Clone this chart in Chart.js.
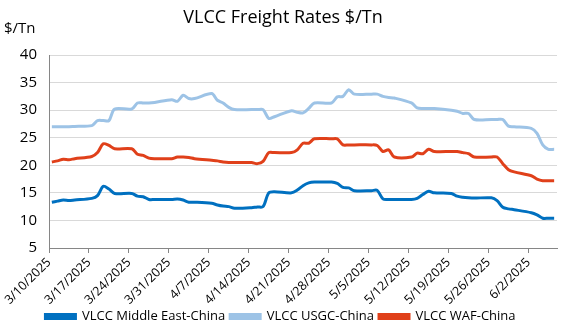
<!DOCTYPE html>
<html>
<head>
<meta charset="utf-8">
<script src="https://cdn.jsdelivr.net/npm/chart.js@4.4.1/dist/chart.umd.min.js"></script>
<style>
  html, body { margin: 0; padding: 0; background: #fff; }
  #wrap { width: 565px; height: 333px; position: relative; }
</style>
</head>
<body>
<div id="wrap"><canvas id="grafico" width="565" height="333"></canvas></div>
<script>
// fechas (dias habiles)
const fechas = [
  "2025-03-10", "2025-03-11", "2025-03-12", "2025-03-13", "2025-03-14",
  "2025-03-17", "2025-03-18", "2025-03-19", "2025-03-20", "2025-03-21",
  "2025-03-24", "2025-03-25", "2025-03-26", "2025-03-27", "2025-03-28",
  "2025-03-31", "2025-04-01", "2025-04-02", "2025-04-03", "2025-04-04",
  "2025-04-07", "2025-04-08", "2025-04-09", "2025-04-10", "2025-04-11",
  "2025-04-14", "2025-04-15", "2025-04-16", "2025-04-17", "2025-04-18",
  "2025-04-21", "2025-04-22", "2025-04-23", "2025-04-24", "2025-04-25",
  "2025-04-28", "2025-04-29", "2025-04-30", "2025-05-01", "2025-05-02",
  "2025-05-05", "2025-05-06", "2025-05-07", "2025-05-08", "2025-05-09",
  "2025-05-12", "2025-05-13", "2025-05-14", "2025-05-15", "2025-05-16",
  "2025-05-19", "2025-05-20", "2025-05-21", "2025-05-22", "2025-05-23",
  "2025-05-26", "2025-05-27", "2025-05-28", "2025-05-29", "2025-05-30",
  "2025-06-02", "2025-06-03", "2025-06-04", "2025-06-05", "2025-06-06"
];

const middleEast = [
  13.3, 13.5, 13.7, 13.6, 13.7,
  14.0, 14.5, 16.2, 15.7, 14.9,
  14.9, 14.4, 14.3, 13.8, 13.8,
  13.8, 13.9, 13.7, 13.3, 13.3,
  13.1, 12.8, 12.6, 12.5, 12.2,
  12.3, 12.45, 12.5, 15.0, 15.2,
  15.0, 15.5, 16.3, 16.8, 16.95,
  16.95, 16.7, 16.0, 15.9, 15.4,
  15.4, 15.45, 13.9, 13.8, 13.8,
  13.8, 14.0, 14.7, 15.3, 15.0,
  14.9, 14.4, 14.2, 14.1, 14.05,
  14.1, 13.6, 12.4, 12.1, 11.95,
  11.4, 11.0, 10.4, 10.4, 10.4
];

const usgc = [
  27.0, 27.0, 27.0, 27.0, 27.05,
  27.2, 28.1, 28.1, 28.1, 30.2,
  30.2, 31.3, 31.3, 31.3, 31.4,
  31.9, 31.6, 32.7, 32.1, 32.1,
  33.0, 31.8, 31.3, 30.5, 30.1,
  30.1, 30.1, 30.1, 28.5, 28.8,
  29.9, 29.6, 29.5, 30.3, 31.3,
  31.3, 32.4, 32.5, 33.7, 32.9,
  32.9, 32.9, 32.5, 32.3, 32.2,
  31.3, 30.4, 30.3, 30.3, 30.3,
  30.0, 29.8, 29.4, 29.4, 28.3,
  28.3, 28.3, 28.3, 27.1, 27.0,
  26.7, 25.8, 23.7, 22.9, 22.9
];

const waf = [
  20.6, 20.8, 21.1, 21.0, 21.2,
  21.6, 22.3, 23.9, 23.6, 23.0,
  23.0, 22.0, 21.8, 21.3, 21.2,
  21.2, 21.5, 21.5, 21.4, 21.2,
  20.9, 20.8, 20.6, 20.5, 20.5,
  20.5, 20.3, 20.7, 22.3, 22.3,
  22.3, 22.8, 24.0, 24.0, 24.8,
  24.8, 24.8, 23.7, 23.7, 23.7,
  23.7, 23.6, 22.5, 22.8, 21.5,
  21.5, 22.2, 22.1, 22.9, 22.5,
  22.5, 22.5, 22.3, 22.1, 21.5,
  21.5, 21.5, 20.3, 19.2, 18.8,
  18.1, 17.5, 17.2, 17.2, 17.2
];

const yTicks = [5, 10, 15, 20, 25, 30, 35, 40];
const fuente = "'Open Sans', 'Liberation Sans', sans-serif";

const inicio = new Date("2025-03-10T00:00:00Z");
const DIA = 86400000;

// dias desde 3/10, centrado en el dia (eje de fechas tipo Excel)
function diaIndice(f) {
  return (new Date(f + "T00:00:00Z") - inicio) / DIA + 0.5;
}

function etiquetaFecha(d) {
  const f = new Date(inicio.getTime() + d * DIA);
  return (f.getUTCMonth() + 1) + "/" + f.getUTCDate() + "/" + f.getUTCFullYear();
}

function serie(valores) {
  return valores.map((v, i) => ({ x: diaIndice(fechas[i]), y: v }));
}

const textos = {
  id: "textos",
  afterDraw(chart) {
    const ctx = chart.ctx;
    ctx.save();
    ctx.fillStyle = "#000";
    ctx.font = "18px " + fuente;
    ctx.textAlign = "center";
    ctx.textBaseline = "middle";
    ctx.fillText("VLCC Freight Rates $/Tn", 283, 18);
    ctx.font = "15px " + fuente;
    ctx.textAlign = "left";
    ctx.fillText("$/Tn", 4, 29);
    ctx.restore();
  }
};

const ancho = 3;

new Chart(document.getElementById("grafico"), {
  type: "line",
  data: {
    datasets: [
      { label: "VLCC Middle East-China", data: serie(middleEast), borderColor: "#0070C0", backgroundColor: "#0070C0" },
      { label: "VLCC USGC-China", data: serie(usgc), borderColor: "#9DC3E6", backgroundColor: "#9DC3E6" },
      { label: "VLCC WAF-China", data: serie(waf), borderColor: "#E0401A", backgroundColor: "#E0401A" }
    ].map(ds => Object.assign(ds, { borderWidth: ancho, pointRadius: 0, tension: 0.3, fill: false }))
  },
  options: {
    responsive: false,
    animation: false,
    devicePixelRatio: 1,
    layout: { padding: { top: 55, right: 8, left: 4, bottom: 0 } },
    plugins: {
      title: { display: false },
      tooltip: { enabled: false },
      legend: {
        position: "bottom",
        labels: {
          boxWidth: 30,
          boxHeight: 4,
          padding: 5,
          color: "#000",
          font: { family: fuente, size: 13 }
        }
      }
    },
    scales: {
      x: {
        type: "linear",
        min: 0,
        max: 89,
        afterBuildTicks(axis) {
          const t = [];
          for (let d = 0; d <= 84; d += 7) t.push({ value: d });
          axis.ticks = t;
        },
        afterFit(axis) { axis.height = 57; },
        ticks: {
          autoSkip: false,
          maxRotation: 45,
          minRotation: 45,
          padding: 2,
          color: "#000",
          font: { family: fuente, size: 12.5 },
          callback: v => etiquetaFecha(v)
        },
        grid: { drawOnChartArea: false, drawTicks: true, tickLength: 5, color: "#868686" },
        border: { color: "#868686", width: 1 }
      },
      y: {
        min: 5,
        max: 40,
        afterBuildTicks(axis) { axis.ticks = yTicks.map(v => ({ value: v })); },
        afterFit(axis) { axis.width = 45; },
        ticks: {
          padding: 12,
          color: "#000",
          font: { family: fuente, size: 15 }
        },
        grid: { drawTicks: false, color: "#D9D9D9" },
        border: { color: "#868686", width: 1 }
      }
    }
  },
  plugins: [textos]
});
</script>
</body>
</html>
